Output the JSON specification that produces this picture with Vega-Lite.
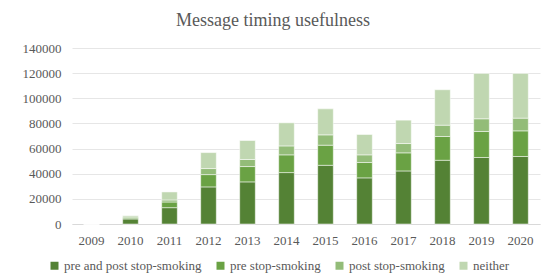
{
  "$schema": "https://vega.github.io/schema/vega-lite/v6.json",
  "width": 468,
  "height": 176,
  "autosize": {"type": "none"},
  "padding": {"left": 72, "top": 48, "right": 3, "bottom": 52},
  "background": "white",
  "title": {
    "text": "Message timing usefulness",
    "font": "Liberation Serif",
    "fontSize": 18,
    "fontWeight": "normal",
    "color": "#595959",
    "anchor": "middle",
    "dx": -33,
    "offset": 12
  },
  "data": {
    "values": [
      {"year": "2009", "category": "pre and post stop-smoking", "k": 1, "value": 0},
      {"year": "2009", "category": "pre stop-smoking", "k": 2, "value": 0},
      {"year": "2009", "category": "post stop-smoking", "k": 3, "value": 0},
      {"year": "2009", "category": "neither", "k": 4, "value": 0},
      {"year": "2010", "category": "pre and post stop-smoking", "k": 1, "value": 4000},
      {"year": "2010", "category": "pre stop-smoking", "k": 2, "value": 800},
      {"year": "2010", "category": "post stop-smoking", "k": 3, "value": 800},
      {"year": "2010", "category": "neither", "k": 4, "value": 1000},
      {"year": "2011", "category": "pre and post stop-smoking", "k": 1, "value": 13000},
      {"year": "2011", "category": "pre stop-smoking", "k": 2, "value": 4500},
      {"year": "2011", "category": "post stop-smoking", "k": 3, "value": 1600},
      {"year": "2011", "category": "neither", "k": 4, "value": 6400},
      {"year": "2012", "category": "pre and post stop-smoking", "k": 1, "value": 29500},
      {"year": "2012", "category": "pre stop-smoking", "k": 2, "value": 9800},
      {"year": "2012", "category": "post stop-smoking", "k": 3, "value": 4800},
      {"year": "2012", "category": "neither", "k": 4, "value": 12700},
      {"year": "2013", "category": "pre and post stop-smoking", "k": 1, "value": 33500},
      {"year": "2013", "category": "pre stop-smoking", "k": 2, "value": 12200},
      {"year": "2013", "category": "post stop-smoking", "k": 3, "value": 5600},
      {"year": "2013", "category": "neither", "k": 4, "value": 15100},
      {"year": "2014", "category": "pre and post stop-smoking", "k": 1, "value": 40900},
      {"year": "2014", "category": "pre stop-smoking", "k": 2, "value": 14100},
      {"year": "2014", "category": "post stop-smoking", "k": 3, "value": 7100},
      {"year": "2014", "category": "neither", "k": 4, "value": 18400},
      {"year": "2015", "category": "pre and post stop-smoking", "k": 1, "value": 46700},
      {"year": "2015", "category": "pre stop-smoking", "k": 2, "value": 16000},
      {"year": "2015", "category": "post stop-smoking", "k": 3, "value": 8200},
      {"year": "2015", "category": "neither", "k": 4, "value": 20700},
      {"year": "2016", "category": "pre and post stop-smoking", "k": 1, "value": 36700},
      {"year": "2016", "category": "pre stop-smoking", "k": 2, "value": 12200},
      {"year": "2016", "category": "post stop-smoking", "k": 3, "value": 6100},
      {"year": "2016", "category": "neither", "k": 4, "value": 16200},
      {"year": "2017", "category": "pre and post stop-smoking", "k": 1, "value": 42200},
      {"year": "2017", "category": "pre stop-smoking", "k": 2, "value": 14400},
      {"year": "2017", "category": "post stop-smoking", "k": 3, "value": 7400},
      {"year": "2017", "category": "neither", "k": 4, "value": 18600},
      {"year": "2018", "category": "pre and post stop-smoking", "k": 1, "value": 50700},
      {"year": "2018", "category": "pre stop-smoking", "k": 2, "value": 18900},
      {"year": "2018", "category": "post stop-smoking", "k": 3, "value": 9000},
      {"year": "2018", "category": "neither", "k": 4, "value": 28200},
      {"year": "2019", "category": "pre and post stop-smoking", "k": 1, "value": 52900},
      {"year": "2019", "category": "pre stop-smoking", "k": 2, "value": 20700},
      {"year": "2019", "category": "post stop-smoking", "k": 3, "value": 10100},
      {"year": "2019", "category": "neither", "k": 4, "value": 36100},
      {"year": "2020", "category": "pre and post stop-smoking", "k": 1, "value": 53700},
      {"year": "2020", "category": "pre stop-smoking", "k": 2, "value": 20400},
      {"year": "2020", "category": "post stop-smoking", "k": 3, "value": 10100},
      {"year": "2020", "category": "neither", "k": 4, "value": 35600}
    ]
  },
  "mark": {"type": "bar", "stroke": "white", "strokeWidth": 0.5},
  "encoding": {
    "x": {
      "field": "year",
      "type": "ordinal",
      "title": null,
      "scale": {"paddingInner": 0.6, "paddingOuter": 0.3},
      "axis": {
        "labelAngle": 0,
        "labelPadding": 10,
        "ticks": false,
        "domainColor": "#d9d9d9",
        "grid": false
      }
    },
    "y": {
      "field": "value",
      "type": "quantitative",
      "stack": "zero",
      "title": null,
      "scale": {"domain": [0, 140000]},
      "axis": {
        "values": [0, 20000, 40000, 60000, 80000, 100000, 120000, 140000],
        "format": "d",
        "labelPadding": 11,
        "ticks": false,
        "domain": false,
        "gridColor": "#e6e6e6"
      }
    },
    "color": {
      "field": "category",
      "type": "nominal",
      "scale": {
        "domain": ["pre and post stop-smoking", "pre stop-smoking", "post stop-smoking", "neither"],
        "range": ["#548235", "#6aa244", "#93bc78", "#c0d7b1"]
      },
      "legend": {
        "title": null,
        "orient": "none",
        "direction": "horizontal",
        "legendX": -24,
        "legendY": 211,
        "columns": 4,
        "symbolType": "square",
        "symbolSize": 64,
        "symbolStrokeWidth": 0,
        "labelOffset": 3,
        "columnPadding": 12
      }
    },
    "order": {"field": "k", "type": "quantitative", "sort": "ascending"}
  },
  "config": {
    "font": "Liberation Serif",
    "view": {"stroke": null},
    "axis": {"labelFont": "Liberation Serif", "labelFontSize": 13, "labelColor": "#595959"},
    "legend": {"labelFont": "Liberation Serif", "labelFontSize": 13, "labelColor": "#595959"}
  }
}
